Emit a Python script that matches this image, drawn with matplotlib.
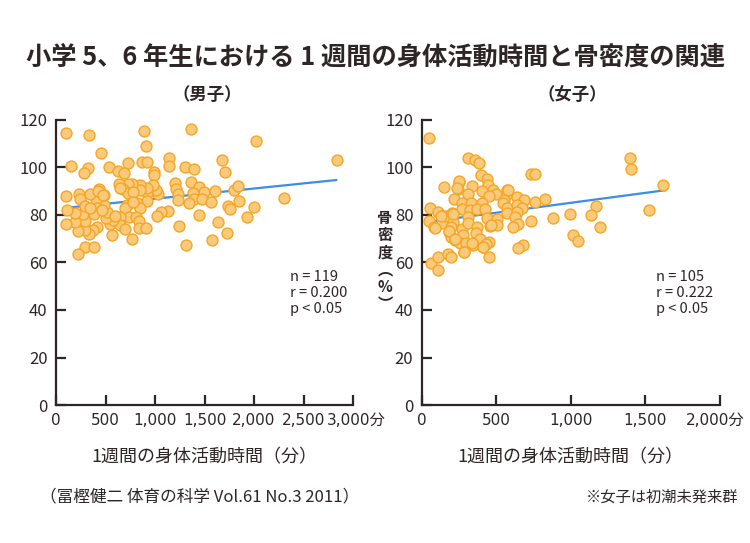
import matplotlib.pyplot as plt
from matplotlib.transforms import ScaledTranslation

plt.rcParams['font.family'] = ['Noto Sans CJK JP', 'DejaVu Sans']

# boys: weekly physical activity (min) vs bone density (%)
boys_time = [97, 336, 893, 1359, 2021, 913, 450, 2840, 148, 319, 279, 534, 732, 873, 923,
             1138, 1138, 1302, 1393, 1675, 1705, 624, 682, 990, 990, 1366, 1205, 1215, 1232,
             1235, 1447, 1490, 1383, 1390, 1343, 1477, 1564, 1608, 1796, 1836, 1850, 1735,
             1762, 2001, 1933, 2299, 1440, 1638, 1725, 1578, 1316, 1242, 1131, 1057, 1020,
             1034, 1007, 984, 920, 917, 920, 846, 846, 768, 725, 634, 675, 725, 779, 819, 853,
             712, 698, 735, 651, 644, 698, 806, 839, 839, 909, 768, 564, 547, 574, 500, 510,
             487, 480, 430, 403, 413, 383, 410, 369, 336, 295, 222, 295, 275, 195, 195, 97,
             107, 97, 232, 242, 295, 339, 423, 470, 292, 380, 222, 651, 342, 463, 597, 779]
boys_bmd = [114.7, 113.7, 115.2, 116.2, 111.3, 109.2, 106.1, 103.0, 100.5, 99.7, 97.8, 100.3,
            102.0, 102.5, 102.5, 104.1, 100.6, 100.4, 99.4, 103.0, 98.2, 98.5, 97.7, 98.2, 96.8,
            94.0, 93.3, 90.9, 88.8, 86.2, 91.9, 89.7, 89.3, 86.7, 84.9, 86.7, 85.5, 90.1, 90.4,
            92.3, 86.0, 83.7, 82.7, 83.5, 79.3, 87.3, 80.0, 77.1, 72.4, 69.5, 67.4, 75.2, 81.7,
            81.4, 79.6, 88.7, 90.5, 92.6, 89.1, 86.0, 91.5, 92.6, 90.5, 93.1, 93.1, 93.1, 90.8,
            89.1, 89.6, 84.9, 82.8, 84.2, 82.8, 79.0, 79.0, 75.8, 74.1, 79.0, 77.5, 74.7, 74.7,
            70.0, 71.6, 76.2, 77.9, 78.6, 81.4, 84.3, 88.4, 90.9, 86.6, 83.1, 80.3, 75.1, 73.7,
            71.9, 73.7, 73.4, 77.5, 80.3, 77.2, 80.7, 76.3, 82.1, 88.0, 88.8, 86.6, 83.9, 88.7,
            90.1, 88.4, 66.7, 66.7, 63.4, 91.5, 82.8, 82.1, 79.6, 85.3]
boys_trend_x = [150, 2830]
boys_trend_y = [83.2, 94.7]

# girls (pre-menarche)
girls_time = [49, 308, 359, 386, 397, 437, 442, 252, 241, 147, 339, 402, 480, 498, 453, 312,
              216, 268, 328, 402, 272, 324, 373, 426, 574, 570, 553, 543, 570, 570, 641, 685,
              636, 672, 636, 625, 647, 614, 732, 759, 759, 826, 732, 882, 994, 1014, 1047,
              1166, 1132, 1197, 1396, 1402, 1521, 1619, 677, 645, 453, 58, 51, 85, 111, 134,
              138, 161, 205, 212, 194, 185, 194, 223, 268, 275, 312, 308, 370, 362, 391, 453,
              257, 297, 344, 409, 431, 281, 437, 458, 502, 507, 60, 111, 111, 174, 198, 248,
              239, 208, 87, 127, 183, 225, 283, 337, 466, 578, 411]
girls_bmd = [112.3, 104.1, 103.2, 101.8, 96.8, 95.2, 92.5, 94.0, 90.9, 91.9, 92.2, 90.2, 90.5,
             88.7, 88.0, 88.8, 86.6, 85.2, 85.2, 85.2, 82.4, 82.1, 82.7, 82.7, 90.5, 88.8, 86.3,
             84.9, 82.8, 80.7, 87.4, 86.3, 84.2, 82.8, 81.1, 79.3, 76.1, 74.8, 97.1, 97.1, 85.6,
             86.7, 77.5, 78.9, 80.6, 71.6, 69.2, 83.9, 80.0, 75.1, 104.1, 99.2, 82.1, 92.6,
             67.5, 66.2, 62.4, 83.1, 77.6, 74.9, 81.1, 79.6, 76.8, 79.6, 80.7, 77.2, 74.8, 73.0,
             70.9, 69.5, 74.0, 71.6, 79.3, 76.5, 74.8, 72.3, 69.9, 68.8, 68.3, 68.3, 67.4, 66.4,
             67.8, 64.5, 78.6, 75.4, 78.2, 75.8, 59.9, 62.4, 56.7, 63.6, 62.2, 94.3, 91.2, 80.4,
             74.7, 79.6, 73.3, 69.9, 64.5, 68.3, 75.8, 90.5, 66.7]
girls_trend_x = [89, 1630]
girls_trend_y = [77.5, 90.4]

yticks = [0, 20, 40, 60, 80, 100, 120]
boys_xticks = [0, 500, 1000, 1500, 2000, 2500, 3000]
boys_xlabels = ['0', '500', '1,000', '1,500', '2,000', '2,500', '3,000分']
girls_xticks = [0, 500, 1000, 1500, 2000]
girls_xlabels = ['0', '500', '1,000', '1,500', '2,000分']

dark = '#2e2626'
fill = '#F9C97C'
edge = '#F5A623'
line_col = '#3A8EE6'

fig = plt.figure(figsize=(7.5, 5.43), dpi=100)
ax1 = fig.add_axes([0.0747, 0.2541, 0.396, 0.525])
ax2 = fig.add_axes([0.5623, 0.2541, 0.3977, 0.525])


def style_axis(ax, xticks, xlabels, last_shift):
    ax.set_xlim(0, xticks[-1])
    ax.set_ylim(0, 120)
    ax.set_xticks(xticks)
    ax.set_xticklabels(xlabels, family=['DejaVu Sans', 'Noto Sans CJK JP'], fontsize=11)
    ax.set_yticks(yticks)
    for s in ['top', 'right']:
        ax.spines[s].set_visible(False)
    for s in ['left', 'bottom']:
        ax.spines[s].set_linewidth(1.6)
        ax.spines[s].set_color(dark)
    ax.tick_params(direction='in', length=7, width=1.6, color=dark,
                   labelcolor=dark, labelsize=12, pad=6)
    ax.tick_params(axis='x', labelsize=11)
    # nudge the last label ("...分") so it doesn't collide / run off the edge
    last = ax.get_xticklabels()[-1]
    last.set_transform(last.get_transform()
                       + ScaledTranslation(last_shift / 100, 0, fig.dpi_scale_trans))


for ax, xs, ys, tx, ty, xt, xl, sh in [
        (ax1, boys_time, boys_bmd, boys_trend_x, boys_trend_y, boys_xticks, boys_xlabels, 3),
        (ax2, girls_time, girls_bmd, girls_trend_x, girls_trend_y, girls_xticks, girls_xlabels, -5)]:
    ax.plot(tx, ty, color=line_col, lw=1.6, zorder=2)
    ax.scatter(xs, ys, s=62, facecolor=fill, edgecolor=edge, linewidth=1.0,
               zorder=3, clip_on=False)
    style_axis(ax, xt, xl, sh)
    ax.set_xlabel('1週間の身体活動時間（分）', fontsize=13, color=dark, labelpad=14)

fig.text(0.5, 1 - 57 / 543, '小学 5、6 年生における 1 週間の身体活動時間と骨密度の関連',
         ha='center', va='center', fontsize=18.2, fontweight='bold', color=dark)
fig.text(207 / 750, 1 - 95 / 543, '（男子）', ha='center', va='center',
         fontsize=12.5, fontweight='bold', color=dark)
fig.text(572 / 750, 1 - 95 / 543, '（女子）', ha='center', va='center',
         fontsize=12.5, fontweight='bold', color=dark)

fig.text(385 / 750, 1 - 261 / 543, '骨\n密\n度\n︵\n%\n︶', ha='center', va='center',
         fontsize=11, fontweight='bold', color=dark, linespacing=1.1)

fig.text(290 / 750, 1 - 270 / 543, 'n = 119\nr = 0.200\np < 0.05', ha='left', va='top',
         fontsize=10.5, color=dark, linespacing=1.2)
fig.text(656 / 750, 1 - 270 / 543, 'n = 105\nr = 0.222\np < 0.05', ha='left', va='top',
         fontsize=10.5, color=dark, linespacing=1.2)

fig.text(40 / 750, 1 - 497 / 543, '（冨樫健二 体育の科学 Vol.61 No.3 2011）', ha='left',
         va='center', fontsize=12, color=dark)
fig.text(738 / 750, 1 - 497 / 543, '※女子は初潮未発来群', ha='right', va='center',
         fontsize=11, color=dark)

fig.savefig('out.png', dpi=100)
